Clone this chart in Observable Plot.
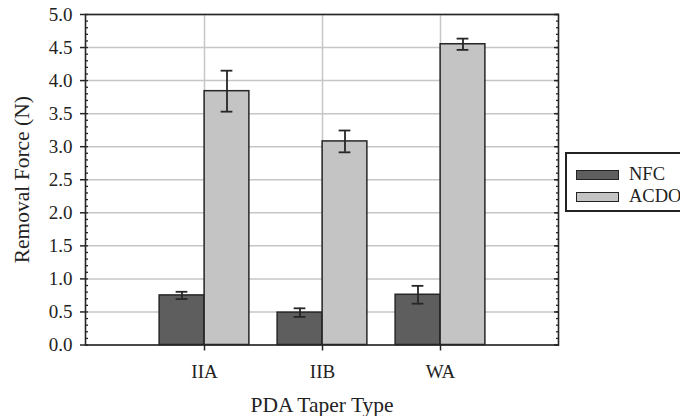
<!DOCTYPE html>
<html>
<head>
<meta charset="utf-8">
<script src="https://cdn.jsdelivr.net/npm/d3@7"></script>
<script src="https://cdn.jsdelivr.net/npm/@observablehq/plot@0.6"></script>
<style>
  html, body { margin: 0; padding: 0; background: #fff; }
  #wrap { position: relative; width: 680px; height: 416px; overflow: hidden; font-family: "Liberation Serif", "Times New Roman", serif; }
  #legend { position: absolute; left: 565px; top: 152px; width: 130px; height: 60px; border: 2px solid #222; background: #fff; box-sizing: border-box; }
  .item { position: absolute; left: 9px; display: flex; align-items: center; font-size: 18.5px; color: #222; }
  .sw { width: 41px; height: 8px; border: 1.5px solid #222; margin-right: 10px; }
</style>
</head>
<body>
<div id="wrap"></div>
<script>
const categories = ["IIA", "IIB", "WA"];
const seriesNames = ["NFC", "ACDO"];
const nfcValues = [0.75, 0.49, 0.76];
const nfcErrors = [0.055, 0.065, 0.135];
const acdoValues = [3.84, 3.08, 4.55];
const acdoErrors = [0.31, 0.165, 0.085];
const yTicks = [0, 0.5, 1, 1.5, 2, 2.5, 3, 3.5, 4, 4.5, 5];
const yMinorTicks = d3.range(0, 5.001, 0.1);
const colors = {NFC: "#5e5e5e", ACDO: "#c4c4c4"};

const nfc = categories.map((c, i) => ({cat: c, v: nfcValues[i], e: nfcErrors[i]}));
const acdo = categories.map((c, i) => ({cat: c, v: acdoValues[i], e: acdoErrors[i]}));

const half = 59.125;
const barW = 45;
const capHalf = 6;
const errOff = barW / 2;

const gridStyle = {stroke: "#c6c6c6", strokeOpacity: 1, strokeWidth: 1.5};
const dark = "#262626";

const chart = Plot.plot({
  width: 680,
  height: 416,
  marginLeft: 85,
  marginRight: 122,
  marginTop: 14,
  marginBottom: 71.5,
  style: {fontFamily: "Liberation Serif, Times New Roman, serif", fontSize: "19px", color: "#222", background: "#fff"},
  x: {type: "band", domain: categories, paddingInner: 0, paddingOuter: 0.5},
  y: {domain: [0, 5]},
  marks: [
    Plot.gridY(yTicks, gridStyle),
    Plot.gridX(categories, gridStyle),
    Plot.barY(nfc, {x: "cat", y: "v", fill: colors.NFC, stroke: dark, strokeWidth: 1.5, insetLeft: half - barW, insetRight: half}),
    Plot.barY(acdo, {x: "cat", y: "v", fill: colors.ACDO, stroke: dark, strokeWidth: 1.5, insetLeft: half, insetRight: half - barW}),
    Plot.ruleX(nfc, {x: "cat", y1: d => d.v - d.e, y2: d => d.v + d.e, dx: -errOff, stroke: dark, strokeWidth: 1.8}),
    Plot.ruleX(acdo, {x: "cat", y1: d => d.v - d.e, y2: d => d.v + d.e, dx: errOff, stroke: dark, strokeWidth: 1.8}),
    Plot.tickY(nfc, {x: "cat", y: d => d.v + d.e, insetLeft: half - errOff - capHalf, insetRight: half + errOff - capHalf, stroke: dark, strokeWidth: 1.8}),
    Plot.tickY(nfc, {x: "cat", y: d => d.v - d.e, insetLeft: half - errOff - capHalf, insetRight: half + errOff - capHalf, stroke: dark, strokeWidth: 1.8}),
    Plot.tickY(acdo, {x: "cat", y: d => d.v + d.e, insetLeft: half + errOff - capHalf, insetRight: half - errOff - capHalf, stroke: dark, strokeWidth: 1.8}),
    Plot.tickY(acdo, {x: "cat", y: d => d.v - d.e, insetLeft: half + errOff - capHalf, insetRight: half - errOff - capHalf, stroke: dark, strokeWidth: 1.8}),
    Plot.frame({stroke: dark, strokeWidth: 1.6}),
    Plot.axisY(yTicks, {anchor: "left", tickSize: 5, tickPadding: 8, tickFormat: d3.format(".1f"), label: null, stroke: dark, strokeWidth: 1.5, fill: "#222"}),
    Plot.axisY(yMinorTicks, {anchor: "left", tickSize: 3, dx: 3, text: null, label: null, stroke: dark, strokeWidth: 1.3}),
    Plot.axisY(yMinorTicks, {anchor: "right", tickSize: 3, dx: -3, text: null, label: null, stroke: dark, strokeWidth: 1.3}),
    Plot.axisY(yTicks, {anchor: "right", tickSize: 5, dx: -5, text: null, label: null, stroke: dark, strokeWidth: 1.5}),
    Plot.axisX(categories, {anchor: "bottom", tickSize: 6, tickPadding: 13, label: null, stroke: dark, strokeWidth: 1.5, fill: "#222"}),
    Plot.text(["Removal Force (N)"], {frameAnchor: "left", dx: -63, rotate: -90, textAnchor: "middle", lineAnchor: "middle", fontSize: 21.5, fill: "#222"}),
    Plot.text(["PDA Taper Type"], {frameAnchor: "bottom", dy: 60, textAnchor: "middle", fontSize: 21.5, lineAnchor: "middle", fill: "#222"})
  ]
});

const wrap = document.getElementById("wrap");
wrap.appendChild(chart);

const legend = document.createElement("div");
legend.id = "legend";
seriesNames.forEach((name, i) => {
  const item = document.createElement("div");
  item.className = "item";
  item.style.top = (i === 0 ? 10 : 32) + "px";
  const sw = document.createElement("div");
  sw.className = "sw";
  sw.style.background = colors[name];
  const label = document.createElement("span");
  label.textContent = name;
  item.appendChild(sw);
  item.appendChild(label);
  legend.appendChild(item);
});
wrap.appendChild(legend);
</script>
</body>
</html>
